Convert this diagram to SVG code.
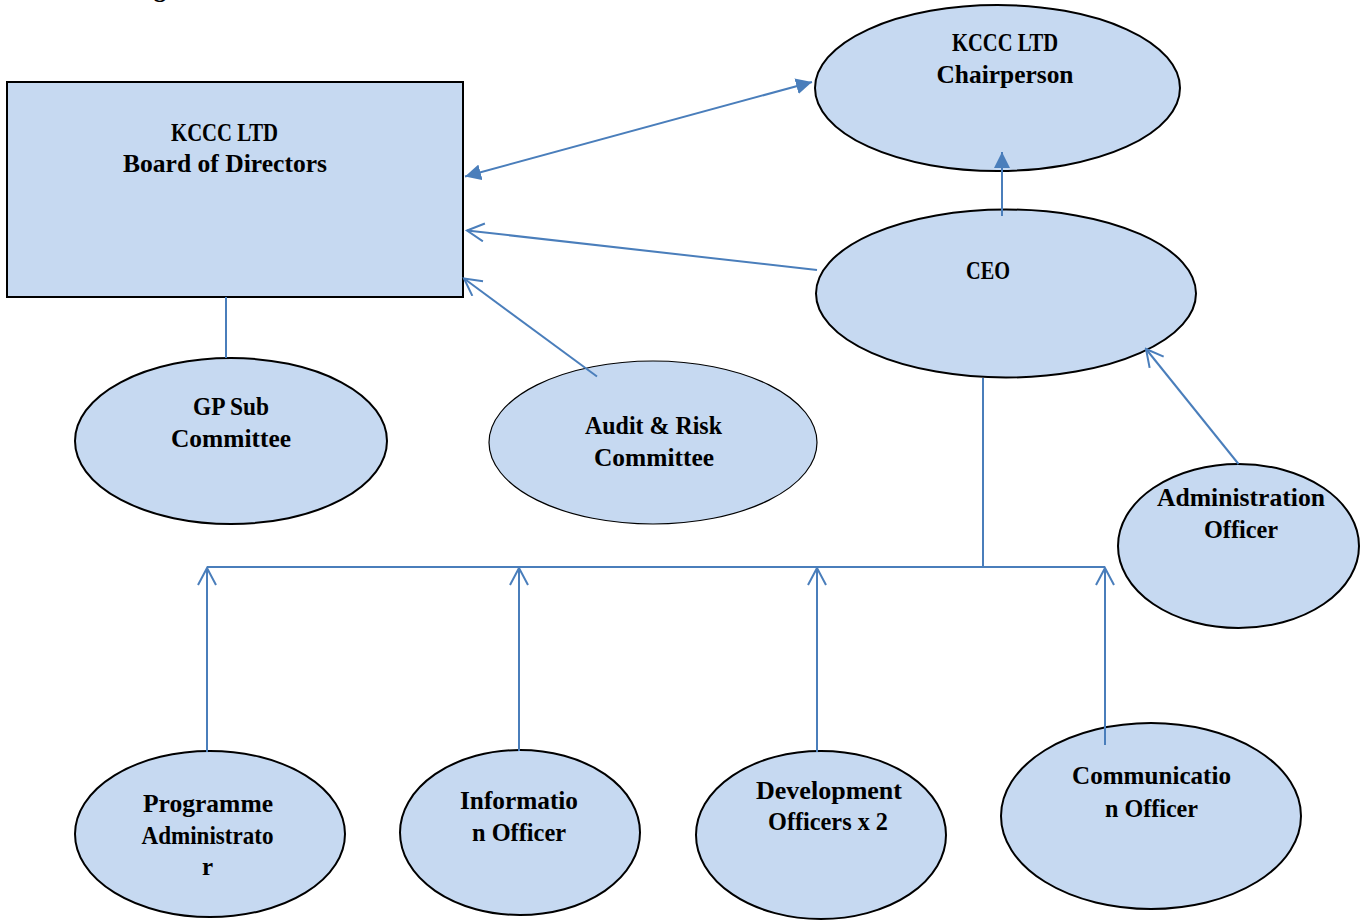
<svg xmlns="http://www.w3.org/2000/svg" width="1369" height="921" viewBox="0 0 1369 921">
<style>
.shape{fill:#C6D9F1;stroke:#000;stroke-width:2}
.thin{stroke-width:1.2}
.lbl{font-family:"Liberation Serif","Times New Roman",serif;font-weight:bold;font-size:25px;fill:#000;text-anchor:middle}
.conn{stroke:#4A7EBB;stroke-width:2;fill:none}
</style>
<defs>
<marker id="solid" markerUnits="userSpaceOnUse" markerWidth="17" markerHeight="16" refX="16" refY="8" orient="auto-start-reverse">
<path d="M0,0 L16,8 L0,16 Z" fill="#4A7EBB"/>
</marker>
<marker id="open" markerUnits="userSpaceOnUse" markerWidth="20" markerHeight="22" refX="18" refY="10" orient="auto">
<path d="M1,1 L18,10 L1,19" fill="none" stroke="#4A7EBB" stroke-width="2"/>
</marker>
</defs>
<rect width="1369" height="921" fill="#fff"/>
<text class="lbl" x="160" y="-3">g</text>
<g id="nodes">
<g id="board">
<rect class="shape" x="7" y="82" width="456" height="215"/>
<text class="lbl" x="224.5" y="140.5" textLength="107" lengthAdjust="spacingAndGlyphs">KCCC LTD</text>
<text class="lbl" x="225" y="172" textLength="204" lengthAdjust="spacingAndGlyphs">Board of Directors</text>
</g>
<g id="chairperson">
<ellipse class="shape" cx="997.5" cy="88" rx="182.5" ry="83"/>
<text class="lbl" x="1005" y="51" textLength="106" lengthAdjust="spacingAndGlyphs">KCCC LTD</text>
<text class="lbl" x="1005" y="83" textLength="137" lengthAdjust="spacingAndGlyphs">Chairperson</text>
</g>
<g id="ceo">
<ellipse class="shape" cx="1006" cy="293.5" rx="190" ry="84"/>
<text class="lbl" x="988" y="279" textLength="44" lengthAdjust="spacingAndGlyphs">CEO</text>
</g>
<g id="gp">
<ellipse class="shape" cx="231" cy="441" rx="156" ry="83"/>
<text class="lbl" x="231" y="415" textLength="76" lengthAdjust="spacingAndGlyphs">GP Sub</text>
<text class="lbl" x="231" y="447" textLength="120" lengthAdjust="spacingAndGlyphs">Committee</text>
</g>
<g id="audit">
<ellipse class="shape thin" cx="653" cy="442.5" rx="164" ry="81.5"/>
<text class="lbl" x="653.5" y="434" textLength="137" lengthAdjust="spacingAndGlyphs">Audit &amp; Risk</text>
<text class="lbl" x="654" y="466" textLength="120" lengthAdjust="spacingAndGlyphs">Committee</text>
</g>
<g id="admin">
<ellipse class="shape" cx="1238.5" cy="546" rx="120.5" ry="82"/>
<text class="lbl" x="1241" y="506" textLength="168" lengthAdjust="spacingAndGlyphs">Administration</text>
<text class="lbl" x="1241" y="538" textLength="74" lengthAdjust="spacingAndGlyphs">Officer</text>
</g>
<g id="programme">
<ellipse class="shape" cx="210" cy="834" rx="135" ry="83"/>
<text class="lbl" x="208" y="811.5" textLength="130" lengthAdjust="spacingAndGlyphs">Programme</text>
<text class="lbl" x="207.5" y="843.5" textLength="132" lengthAdjust="spacingAndGlyphs">Administrato</text>
<text class="lbl" x="207.5" y="875">r</text>
</g>
<g id="information">
<ellipse class="shape" cx="520" cy="832.5" rx="120" ry="82.5"/>
<text class="lbl" x="519" y="809" textLength="118" lengthAdjust="spacingAndGlyphs">Informatio</text>
<text class="lbl" x="519" y="841" textLength="94" lengthAdjust="spacingAndGlyphs">n Officer</text>
</g>
<g id="development">
<ellipse class="shape" cx="821" cy="835" rx="125" ry="84"/>
<text class="lbl" x="829" y="798.5" textLength="146" lengthAdjust="spacingAndGlyphs">Development</text>
<text class="lbl" x="828" y="830" textLength="120" lengthAdjust="spacingAndGlyphs">Officers x 2</text>
</g>
<g id="communication">
<ellipse class="shape" cx="1151" cy="816" rx="150" ry="93"/>
<text class="lbl" x="1151.5" y="784" textLength="159" lengthAdjust="spacingAndGlyphs">Communicatio</text>
<text class="lbl" x="1151.5" y="817" textLength="93" lengthAdjust="spacingAndGlyphs">n Officer</text>
</g>
</g>
<g id="connectors">
<line class="conn" x1="465" y1="176.5" x2="812" y2="82" marker-start="url(#solid)" marker-end="url(#solid)"/>
<line class="conn" x1="1002" y1="216" x2="1002" y2="152" marker-end="url(#solid)"/>
<line class="conn" x1="817" y1="270" x2="467" y2="230.5" marker-end="url(#open)"/>
<line class="conn" x1="597" y1="376.5" x2="464" y2="278.5" marker-end="url(#open)"/>
<line class="conn" x1="1238.5" y1="464" x2="1146" y2="349" marker-end="url(#open)"/>
<line class="conn" x1="226" y1="297" x2="226" y2="358"/>
<line class="conn" x1="983" y1="378" x2="983" y2="567"/>
<line class="conn" x1="207" y1="567" x2="1105" y2="567"/>
<line class="conn" x1="207" y1="752" x2="207" y2="568" marker-end="url(#open)"/>
<line class="conn" x1="519" y1="751" x2="519" y2="568" marker-end="url(#open)"/>
<line class="conn" x1="817" y1="752" x2="817" y2="568" marker-end="url(#open)"/>
<line class="conn" x1="1105" y1="745" x2="1105" y2="568" marker-end="url(#open)"/>
</g>
</svg>
